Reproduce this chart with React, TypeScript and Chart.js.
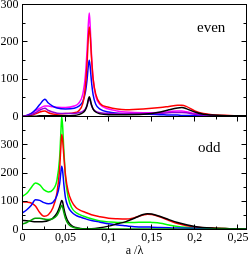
import React, { useEffect, useRef } from 'react';
import { Chart, registerables } from 'chart.js';

Chart.register(...registerables);

const FONT = "'Liberation Serif', 'Times New Roman', serif";

// ---------- top panel ("even") ----------
const TOP_X = [0, 0.005, 0.01, 0.015, 0.02, 0.026, 0.03, 0.035, 0.04, 0.05, 0.06, 0.065, 0.07, 0.073, 0.075, 0.0765, 0.0775, 0.0785, 0.08, 0.082, 0.085, 0.09, 0.1, 0.11, 0.12, 0.14, 0.16, 0.17, 0.18, 0.185, 0.19, 0.2, 0.21, 0.22, 0.24, 0.26];
const TOP_MAGENTA = [0, 3, 8, 15, 22, 28, 28, 26, 25, 24, 28, 35, 60, 110, 180, 250, 277, 245, 170, 100, 55, 32, 20, 15, 12, 10, 11, 13, 15, 15, 13, 8, 5, 3, 2, 2];
const TOP_RED = [0, 1, 3, 7, 12, 15, 10, 7, 6, 8, 10, 15, 35, 80, 145, 215, 240, 220, 160, 100, 60, 35, 25, 20, 18, 20, 24, 27, 30, 30, 27, 15, 8, 5, 3, 2];
const TOP_BLUE = [0, 3, 8, 18, 32, 46, 36, 28, 23, 20, 22, 27, 40, 65, 100, 138, 151, 135, 95, 58, 33, 20, 12, 9, 7, 6, 5, 4, 4, 3, 3, 3, 2, 2, 2, 1];
const TOP_VIOLET = [0, 2, 5, 10, 17, 22, 16, 12, 9, 8, 8, 10, 14, 20, 30, 42, 46, 42, 30, 20, 14, 10, 8, 8, 8, 8, 9, 10, 11, 11, 10, 6, 4, 3, 2, 2];
const TOP_BLACK = [0, 0, 1, 1, 2, 2, 2, 2, 2, 2, 3, 5, 10, 18, 30, 47, 53, 47, 32, 20, 12, 7, 5, 5, 5, 6, 12, 18, 23, 24, 21, 12, 6, 4, 2, 2];

// ---------- bottom panel ("odd") ----------
const BOT_X = [0, 0.005, 0.01, 0.015, 0.02, 0.025, 0.03, 0.035, 0.04, 0.043, 0.0445, 0.0455, 0.0465, 0.048, 0.05, 0.053, 0.057, 0.062, 0.067, 0.072, 0.08, 0.09, 0.1, 0.11, 0.12, 0.13, 0.14, 0.145, 0.15, 0.16, 0.17, 0.18, 0.2, 0.22, 0.24, 0.26];
const BOT_GREEN = [118, 128, 148, 165, 158, 140, 133, 140, 175, 250, 340, 400, 370, 280, 180, 115, 78, 60, 52, 46, 38, 30, 27, 25, 25, 25, 26, 26, 25, 22, 16, 11, 6, 4, 3, 2];
const BOT_RED = [98, 97, 94, 83, 60, 47, 52, 75, 130, 210, 290, 336, 320, 260, 190, 135, 100, 78, 68, 62, 52, 45, 40, 38, 37, 42, 51, 54, 53, 44, 32, 21, 9, 5, 3, 2];
const BOT_BLUE = [59, 70, 85, 105, 103, 95, 91, 95, 120, 160, 200, 224, 210, 160, 110, 80, 62, 50, 44, 39, 32, 26, 20, 16, 13, 10, 9, 9, 8, 7, 6, 5, 4, 3, 2, 2];
const BOT_BLACK = [32, 31, 29, 27, 27, 28, 32, 40, 58, 80, 95, 103, 98, 75, 50, 28, 14, 7, 4, 3, 3, 6, 12, 20, 28, 40, 53, 56, 55, 46, 35, 25, 11, 5, 3, 2];
const BOT_GREEN2 = [20, 25, 33, 40, 40, 37, 35, 38, 50, 68, 80, 86, 80, 60, 38, 20, 10, 5, 3, 2, 2, 2, 2, 2, 2, 2, 2, 2, 2, 2, 2, 1, 1, 1, 1, 1];

// ---------- axes ----------
const X_MIN = 0;
const X_MAX = 0.26;
const X_LABELS = [0, 0.05, 0.1, 0.15, 0.2, 0.25];
const X_MINOR = [0.025, 0.075, 0.125, 0.175, 0.225];
const TOP_Y_MAX = 300;
const BOT_Y_MAX = 400;
const TOP_Y_LABELS = [0, 100, 200, 300];
const BOT_Y_LABELS = [0, 100, 200, 300];
const TOP_Y_MAJOR = [0, 100, 200, 300];
const TOP_Y_MINOR = [50, 150, 250];
const BOT_Y_MAJOR = [0, 100, 200, 300, 400];
const BOT_Y_MINOR = [50, 150, 250, 350];

const pts = (xs: number[], ys: number[]) => xs.map((x, i) => ({ x, y: ys[i] }));

type FrameOpts = {
  label: string;
  lx: number;
  ly: number;
  yMajor: number[];
  yMinor: number[];
  xTop: boolean;
  xBottom: boolean;
  title?: string;
};

function makeFrame(o: FrameOpts) {
  return {
    id: 'frame',
    afterDatasetsDraw(chart: any) {
      const { ctx, chartArea: a, scales } = chart;
      const xs = scales.x;
      const ys = scales.y;
      ctx.save();
      ctx.strokeStyle = '#000';
      ctx.lineWidth = 1;
      ctx.strokeRect(a.left, a.top, a.right - a.left, a.bottom - a.top);
      ctx.beginPath();
      const seg = (x1: number, y1: number, x2: number, y2: number) => {
        ctx.moveTo(x1, y1);
        ctx.lineTo(x2, y2);
      };
      const yTicks = (vals: number[], len: number) =>
        vals.forEach((v) => {
          const p = Math.round(ys.getPixelForValue(v) - 0.5) + 0.5;
          seg(a.left, p, a.left + len, p);
          seg(a.right, p, a.right - len, p);
        });
      const xTicks = (vals: number[], len: number) =>
        vals.forEach((v) => {
          const p = Math.round(xs.getPixelForValue(v) - 0.5) + 0.5;
          if (o.xTop) seg(p, a.top, p, a.top + len);
          if (o.xBottom) seg(p, a.bottom, p, a.bottom - len);
        });
      yTicks(o.yMajor, 5);
      yTicks(o.yMinor, 3);
      xTicks(X_LABELS, 5);
      xTicks(X_MINOR, 3);
      ctx.stroke();
      ctx.fillStyle = '#000';
      ctx.textBaseline = 'alphabetic';
      ctx.textAlign = 'left';
      ctx.font = `15px ${FONT}`;
      ctx.fillText(o.label, a.right + o.lx, a.top + o.ly);
      if (o.title) {
        ctx.font = `12px ${FONT}`;
        ctx.textAlign = 'center';
        ctx.fillText(o.title, (a.left + a.right) / 2, chart.height - 3);
      }
      ctx.restore();
    },
  };
}

const line = (label: string, data: { x: number; y: number }[], color: string) => ({
  label,
  data,
  borderColor: color,
  backgroundColor: color,
  borderWidth: 1.5,
  pointRadius: 0,
  fill: false,
  cubicInterpolationMode: 'monotone' as const,
});

const tickFont = { family: FONT, size: 12 };

function Panel(props: { top: number; height: number; kind: 'top' | 'bottom' }) {
  const ref = useRef<HTMLCanvasElement | null>(null);
  useEffect(() => {
    if (!ref.current) return;
    const isTop = props.kind === 'top';
    const datasets = isTop
      ? [
          line('black', pts(TOP_X, TOP_BLACK), '#000000'),
          line('violet', pts(TOP_X, TOP_VIOLET), '#9400d3'),
          line('red', pts(TOP_X, TOP_RED), '#ff0000'),
          line('blue', pts(TOP_X, TOP_BLUE), '#0000ff'),
          line('magenta', pts(TOP_X, TOP_MAGENTA), '#ff00ff'),
        ]
      : [
          line('green2', pts(BOT_X, BOT_GREEN2), '#00a000'),
          line('black', pts(BOT_X, BOT_BLACK), '#000000'),
          line('blue', pts(BOT_X, BOT_BLUE), '#0000ff'),
          line('red', pts(BOT_X, BOT_RED), '#ff0000'),
          line('green', pts(BOT_X, BOT_GREEN), '#00ff00'),
        ];
    const yLabels = isTop ? TOP_Y_LABELS : BOT_Y_LABELS;
    const chart = new Chart(ref.current, {
      type: 'line',
      data: { datasets },
      options: {
        responsive: false,
        animation: false,
        layout: {
          padding: isTop
            ? { left: 0, right: 2.5, top: 4.5, bottom: props.height - 116.5 }
            : { left: 0, right: 2.5, top: 0.5, bottom: 0 },
        },
        plugins: { legend: { display: false }, tooltip: { enabled: false } },
        scales: {
          x: {
            type: 'linear',
            min: X_MIN,
            max: X_MAX,
            display: !isTop,
            grid: { display: false, drawTicks: false },
            border: { display: false },
            ticks: {
              font: tickFont,
              color: '#000',
              padding: 1,
              maxRotation: 0,
              autoSkip: false,
              callback: (v: any) => String(v).replace('.', ','),
            },
            afterBuildTicks: (s: any) => {
              s.ticks = X_LABELS.map((v) => ({ value: v }));
            },
            afterFit: (s: any) => {
              s.height = isTop ? 0 : props.height - 113.5;
              s.paddingLeft = 0;
              s.paddingRight = 0;
            },
          },
          y: {
            type: 'linear',
            min: 0,
            max: isTop ? TOP_Y_MAX : BOT_Y_MAX,
            grid: { display: false, drawTicks: false },
            border: { display: false },
            ticks: { font: tickFont, color: '#000', padding: 4, autoSkip: false },
            afterBuildTicks: (s: any) => {
              s.ticks = yLabels.map((v) => ({ value: v }));
            },
            afterFit: (s: any) => {
              s.width = 22.5;
              s.paddingTop = 0;
              s.paddingBottom = 0;
            },
          },
        },
      },
      plugins: [
        makeFrame(
          isTop
            ? { label: 'even', lx: -49.5, ly: 27.5, yMajor: TOP_Y_MAJOR, yMinor: TOP_Y_MINOR, xTop: false, xBottom: false }
            : {
                label: 'odd',
                lx: -48.5,
                ly: 35.5,
                yMajor: BOT_Y_MAJOR,
                yMinor: BOT_Y_MINOR,
                xTop: true,
                xBottom: true,
                title: 'a /λ',
              }
        ) as any,
      ],
    } as any);
    return () => chart.destroy();
  }, []);
  return (
    <canvas
      ref={ref}
      width={249}
      height={props.height}
      style={{ position: 'absolute', left: 0, top: props.top, width: 249, height: props.height }}
    />
  );
}

export default function App() {
  return (
    <div style={{ position: 'absolute', left: 0, top: 0, width: 249, height: 257, background: '#fff' }}>
      <Panel top={0} height={125} kind="top" />
      <Panel top={116} height={141} kind="bottom" />
    </div>
  );
}
